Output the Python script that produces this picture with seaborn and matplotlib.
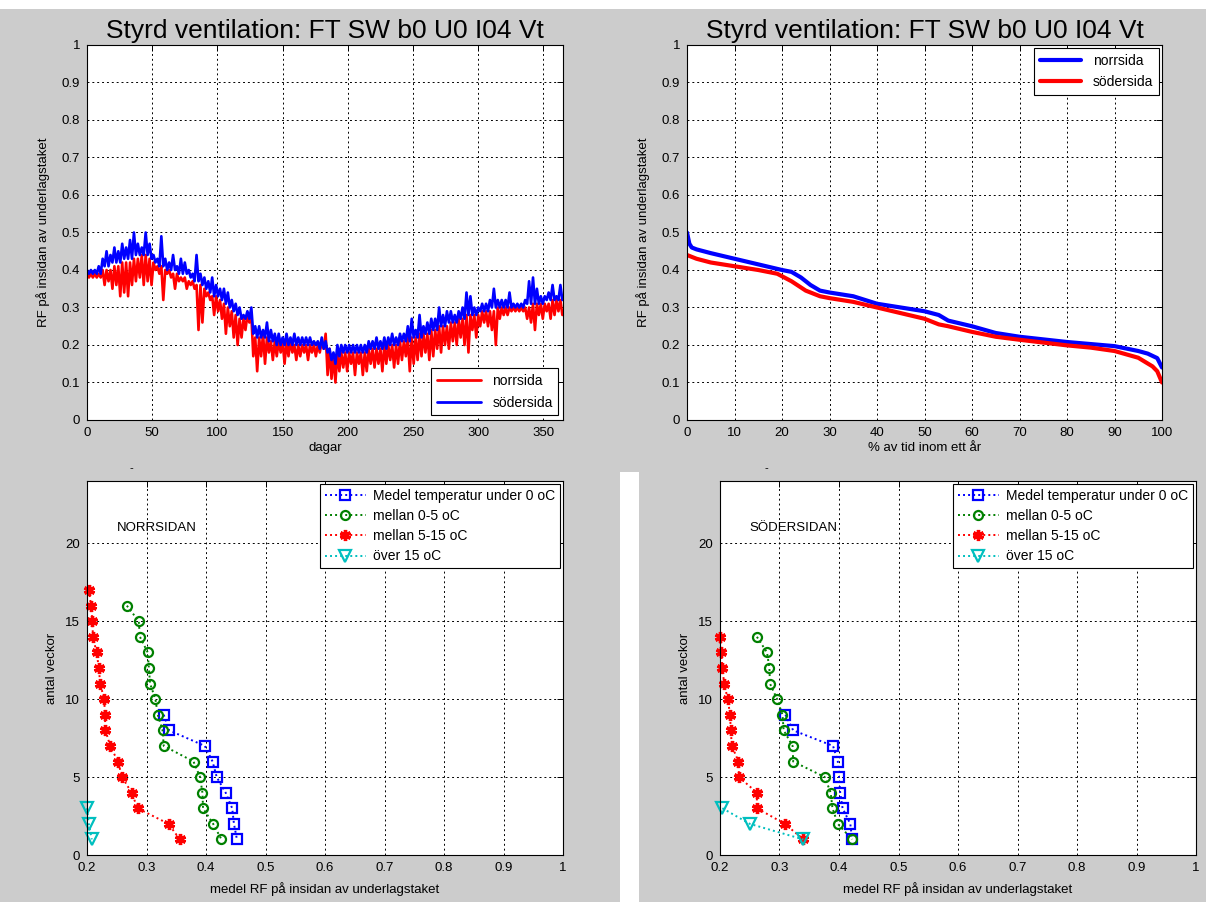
import matplotlib
matplotlib.use("Agg")
import matplotlib.pyplot as plt
from matplotlib.patches import Rectangle
import numpy as np
import pandas as pd
import seaborn as sns

sns.set_theme(style="white", rc={
    "axes.edgecolor": "black", "axes.linewidth": 0.8,
    "text.color": "black", "axes.labelcolor": "black",
    "xtick.color": "black", "ytick.color": "black",
})
plt.rcParams["font.family"] = ["Liberation Sans", "DejaVu Sans"]

TITLE = "Styrd ventilation: FT SW b0 U0 I04 Vt"
YLABEL_TOP = "RF på insidan av underlagstaket"
XLABEL_BOTTOM = "medel RF på insidan av underlagstaket"

# ---- RF over the year: upper / lower envelope sampled every 3 days ----
sample_days = list(range(0, 365, 3))

sod_hi = [0.40, 0.40, 0.40, 0.41, 0.43, 0.45, 0.44, 0.46, 0.45, 0.47,
          0.46, 0.48, 0.50, 0.47, 0.46, 0.50, 0.47, 0.44, 0.43, 0.49,
          0.43, 0.42, 0.44, 0.41, 0.43, 0.42, 0.40, 0.39, 0.44, 0.39,
          0.38, 0.37, 0.38, 0.36, 0.35, 0.35, 0.34, 0.32, 0.31, 0.30,
          0.28, 0.29, 0.30, 0.25, 0.25, 0.24, 0.26, 0.24, 0.23, 0.23,
          0.22, 0.23, 0.22, 0.23, 0.22, 0.22, 0.22, 0.22, 0.21, 0.21,
          0.22, 0.21, 0.19, 0.18, 0.20, 0.20, 0.20, 0.20, 0.20, 0.20,
          0.20, 0.20, 0.21, 0.21, 0.22, 0.21, 0.22, 0.22, 0.23, 0.22,
          0.23, 0.23, 0.25, 0.27, 0.24, 0.28, 0.25, 0.26, 0.27, 0.27,
          0.30, 0.28, 0.29, 0.29, 0.28, 0.29, 0.30, 0.34, 0.33, 0.30,
          0.30, 0.31, 0.31, 0.32, 0.35, 0.32, 0.32, 0.32, 0.34, 0.31,
          0.31, 0.31, 0.32, 0.37, 0.38, 0.35, 0.33, 0.33, 0.34, 0.36,
          0.33, 0.36]
sod_lo = [0.39, 0.39, 0.39, 0.39, 0.41, 0.41, 0.42, 0.42, 0.42, 0.43,
          0.43, 0.43, 0.44, 0.44, 0.44, 0.44, 0.43, 0.42, 0.41, 0.41,
          0.40, 0.40, 0.40, 0.39, 0.39, 0.39, 0.38, 0.37, 0.37, 0.36,
          0.35, 0.34, 0.33, 0.33, 0.32, 0.31, 0.30, 0.29, 0.28, 0.27,
          0.27, 0.27, 0.23, 0.22, 0.22, 0.22, 0.21, 0.21, 0.20, 0.20,
          0.20, 0.20, 0.20, 0.20, 0.20, 0.20, 0.20, 0.20, 0.20, 0.19,
          0.19, 0.18, 0.16, 0.15, 0.17, 0.18, 0.18, 0.18, 0.18, 0.18,
          0.18, 0.18, 0.19, 0.19, 0.19, 0.19, 0.19, 0.20, 0.20, 0.20,
          0.21, 0.21, 0.21, 0.22, 0.22, 0.22, 0.23, 0.23, 0.24, 0.24,
          0.25, 0.25, 0.26, 0.26, 0.26, 0.27, 0.27, 0.28, 0.28, 0.28,
          0.29, 0.29, 0.29, 0.30, 0.30, 0.30, 0.30, 0.30, 0.30, 0.30,
          0.30, 0.30, 0.31, 0.31, 0.31, 0.31, 0.31, 0.32, 0.32, 0.32,
          0.32, 0.32]
norr_hi = [0.39, 0.39, 0.39, 0.39, 0.40, 0.40, 0.40, 0.41, 0.41, 0.42,
           0.42, 0.42, 0.43, 0.43, 0.44, 0.44, 0.43, 0.42, 0.41, 0.41,
           0.40, 0.40, 0.39, 0.39, 0.38, 0.38, 0.37, 0.37, 0.36, 0.36,
           0.35, 0.34, 0.33, 0.33, 0.32, 0.31, 0.30, 0.29, 0.28, 0.27,
           0.27, 0.28, 0.28, 0.22, 0.22, 0.23, 0.22, 0.21, 0.21, 0.21,
           0.21, 0.21, 0.21, 0.20, 0.20, 0.20, 0.20, 0.20, 0.20, 0.20,
           0.21, 0.23, 0.19, 0.17, 0.18, 0.18, 0.18, 0.18, 0.18, 0.18,
           0.18, 0.18, 0.19, 0.19, 0.19, 0.19, 0.20, 0.20, 0.20, 0.20,
           0.21, 0.21, 0.22, 0.22, 0.22, 0.23, 0.23, 0.23, 0.24, 0.24,
           0.25, 0.25, 0.25, 0.26, 0.26, 0.27, 0.27, 0.28, 0.28, 0.28,
           0.28, 0.29, 0.29, 0.29, 0.29, 0.30, 0.30, 0.30, 0.30, 0.30,
           0.30, 0.30, 0.30, 0.30, 0.31, 0.31, 0.31, 0.31, 0.31, 0.32,
           0.32, 0.32]
norr_lo = [0.38, 0.38, 0.38, 0.38, 0.36, 0.37, 0.35, 0.36, 0.33, 0.34,
           0.33, 0.36, 0.37, 0.38, 0.36, 0.37, 0.36, 0.40, 0.39, 0.32,
           0.39, 0.38, 0.35, 0.37, 0.37, 0.35, 0.36, 0.35, 0.24, 0.26,
           0.33, 0.32, 0.28, 0.29, 0.27, 0.23, 0.25, 0.22, 0.20, 0.22,
           0.24, 0.26, 0.17, 0.13, 0.17, 0.15, 0.18, 0.16, 0.17, 0.18,
           0.15, 0.17, 0.18, 0.16, 0.17, 0.18, 0.16, 0.18, 0.17, 0.18,
           0.19, 0.12, 0.11, 0.10, 0.13, 0.14, 0.13, 0.15, 0.12, 0.15,
           0.12, 0.13, 0.15, 0.14, 0.15, 0.13, 0.15, 0.16, 0.14, 0.15,
           0.16, 0.17, 0.13, 0.15, 0.16, 0.17, 0.18, 0.16, 0.17, 0.19,
           0.18, 0.20, 0.19, 0.21, 0.20, 0.22, 0.20, 0.18, 0.24, 0.22,
           0.25, 0.26, 0.25, 0.24, 0.20, 0.27, 0.28, 0.28, 0.29, 0.29,
           0.29, 0.29, 0.27, 0.26, 0.24, 0.28, 0.27, 0.29, 0.27, 0.28,
           0.29, 0.28]

# ---- duration curves (% of the year the RF is exceeded) ----
dur_blue_pct = [0, 0.5, 1, 2, 5, 10, 15, 20, 22, 24, 26, 28, 30, 35, 40, 45,
                50, 53, 55, 60, 65, 70, 80, 90, 95, 97, 99, 100]
dur_blue_rf = [0.50, 0.47, 0.46, 0.455, 0.445, 0.43, 0.415, 0.40, 0.395,
               0.38, 0.36, 0.345, 0.34, 0.33, 0.31, 0.30, 0.29, 0.28, 0.265,
               0.25, 0.232, 0.222, 0.208, 0.197, 0.184, 0.177, 0.165, 0.14]
dur_red_pct = [0, 2, 5, 10, 15, 19, 22, 25, 28, 30, 35, 40, 45, 50, 53, 55,
               60, 65, 70, 80, 85, 90, 95, 98, 99, 100]
dur_red_rf = [0.44, 0.43, 0.42, 0.41, 0.40, 0.39, 0.37, 0.345, 0.33, 0.325,
              0.315, 0.30, 0.285, 0.27, 0.255, 0.25, 0.235, 0.222, 0.214,
              0.199, 0.193, 0.184, 0.166, 0.143, 0.13, 0.10]

# ---- weeks per temperature class vs. mean RF ----
class_labels = ["Medel temperatur under 0 oC", "mellan 0-5 oC",
                "mellan 5-15 oC", "över 15 oC"]

n_under0_weeks = [9, 8, 7, 6, 5, 4, 3, 2, 1]
n_under0_rf = [0.329, 0.338, 0.398, 0.411, 0.418, 0.433, 0.444, 0.447, 0.452]
n_0_5_weeks = [16, 15, 14, 13, 12, 11, 10, 9, 8, 7, 6, 5, 4, 3, 2, 1]
n_0_5_rf = [0.267, 0.287, 0.289, 0.302, 0.304, 0.306, 0.315, 0.319, 0.327,
            0.329, 0.379, 0.390, 0.394, 0.395, 0.412, 0.426]
n_5_15_weeks = [17, 16, 15, 14, 13, 12, 11, 10, 9, 8, 7, 6, 5, 4, 3, 2, 1]
n_5_15_rf = [0.203, 0.207, 0.209, 0.210, 0.216, 0.220, 0.222, 0.229, 0.230,
             0.231, 0.239, 0.252, 0.259, 0.275, 0.285, 0.337, 0.356]
n_over15_weeks = [3, 2, 1]
n_over15_rf = [0.200, 0.203, 0.208]

s_under0_weeks = [9, 8, 7, 6, 5, 4, 3, 2, 1]
s_under0_rf = [0.310, 0.323, 0.390, 0.398, 0.400, 0.402, 0.406, 0.419, 0.422]
s_0_5_weeks = [14, 13, 12, 11, 10, 9, 8, 7, 6, 5, 4, 3, 2, 1]
s_0_5_rf = [0.262, 0.279, 0.283, 0.284, 0.296, 0.305, 0.307, 0.322, 0.323,
            0.376, 0.386, 0.389, 0.398, 0.422]
s_5_15_weeks = [14, 13, 12, 11, 10, 9, 8, 7, 6, 5, 4, 3, 2, 1]
s_5_15_rf = [0.200, 0.202, 0.204, 0.207, 0.213, 0.217, 0.218, 0.220, 0.231,
             0.232, 0.262, 0.262, 0.309, 0.340]
s_over15_weeks = [3, 2, 1]
s_over15_rf = [0.204, 0.250, 0.340]

# ---------------------------------------------------------------------------
W, H = 1206, 902
GRAY = "#cccccc"
fig = plt.figure(figsize=(W / 100, H / 100), dpi=100, facecolor=GRAY)

# white margins of the composed sheet
fig.patches.append(Rectangle((0, 1 - 9 / H), 1, 9 / H, transform=fig.transFigure,
                             facecolor="white", edgecolor="none", zorder=-5))
fig.patches.append(Rectangle((620 / W, 0), 19 / W, (H - 472) / H,
                             transform=fig.transFigure, facecolor="white",
                             edgecolor="none", zorder=-5))


def add_axes(x0, y0, x1, y1):
    return fig.add_axes([x0 / W, 1 - y1 / H, (x1 - x0) / W, (y1 - y0) / H])


def style_axes(ax, xlim, ylim, xticks, xlabels, yticks, ylabels):
    ax.set_facecolor("white")
    ax.set_xlim(*xlim)
    ax.set_ylim(*ylim)
    ax.set_xticks(xticks)
    ax.set_xticklabels(xlabels)
    ax.set_yticks(yticks)
    ax.set_yticklabels(ylabels)
    ax.tick_params(direction="in", top=True, right=True, length=4,
                   width=0.7, labelsize=9.5, pad=5)
    ax.grid(True, color="black", linestyle=(0, (2, 3)), linewidth=0.7)
    for s in ax.spines.values():
        s.set_visible(True)
        s.set_color("black")
        s.set_linewidth(0.8)


def fmt(v):
    return "%g" % v


ax_tl = add_axes(87, 45, 563, 420)
ax_tr = add_axes(687, 45, 1162, 420)
ax_bl = add_axes(87, 481, 563, 855)
ax_br = add_axes(720, 481, 1196, 855)

# ---- top left: RF through the year ----
rows = []
for side, hi, lo in (("norrsida", norr_hi, norr_lo),
                     ("södersida", sod_hi, sod_lo)):
    for d, h, l in zip(sample_days, hi, lo):
        rows.append((side, d, h))
        rows.append((side, d + 1.5, l))
ts = pd.DataFrame(rows, columns=["sida", "dag", "RF"])

sns.lineplot(data=ts, x="dag", y="RF", hue="sida",
             hue_order=["norrsida", "södersida"],
             palette={"norrsida": "red", "södersida": "blue"},
             sort=False, estimator=None, linewidth=1.9, legend=False, ax=ax_tl)
yt = np.round(np.arange(0, 1.01, 0.1), 1)
style_axes(ax_tl, (0, 365), (0, 1), list(range(0, 351, 50)),
           [str(v) for v in range(0, 351, 50)], yt, [fmt(v) for v in yt])
ax_tl.set_title(TITLE, fontsize=19, pad=5)
ax_tl.set_xlabel("dagar", fontsize=9.5, labelpad=2)
ax_tl.set_ylabel(YLABEL_TOP, fontsize=9.5, labelpad=8)
leg = ax_tl.legend(ax_tl.lines[:2], ["norrsida", "södersida"], loc="lower right",
                   fontsize=10, frameon=True, fancybox=False, framealpha=1,
                   edgecolor="black", borderaxespad=0.35, handlelength=3.2,
                   labelspacing=0.55, borderpad=0.4)
for h in leg.legend_handles:
    h.set_linewidth(2)
leg.get_frame().set_linewidth(0.8)

# ---- top right: duration curves ----
sns.lineplot(x=dur_blue_pct, y=dur_blue_rf, color="blue", linewidth=3,
             sort=False, estimator=None, ax=ax_tr, label="norrsida")
sns.lineplot(x=dur_red_pct, y=dur_red_rf, color="red", linewidth=3,
             sort=False, estimator=None, ax=ax_tr, label="södersida")
style_axes(ax_tr, (0, 100), (0, 1), list(range(0, 101, 10)),
           [str(v) for v in range(0, 101, 10)], yt, [fmt(v) for v in yt])
ax_tr.set_title(TITLE, fontsize=19, pad=5)
ax_tr.set_xlabel("% av tid inom ett år", fontsize=9.5, labelpad=2)
ax_tr.set_ylabel(YLABEL_TOP, fontsize=9.5, labelpad=8)
leg = ax_tr.legend(loc="upper right", fontsize=10, frameon=True, fancybox=False,
                   framealpha=1, edgecolor="black", borderaxespad=0.25,
                   handlelength=3.0, labelspacing=0.5, borderpad=0.4)
leg.get_frame().set_linewidth(0.8)

# ---- bottom: weeks per temperature class ----
class_styles = [
    dict(color="#0000ff", marker="s", markersize=7),
    dict(color="#008000", marker="o", markersize=6.5),
    dict(color="#ff0000", marker=(6, 2, 0), markersize=8),
    dict(color="#00bfbf", marker="v", markersize=8),
]

panels = [
    (ax_bl, "NORRSIDAN", 0.25,
     [(n_under0_rf, n_under0_weeks), (n_0_5_rf, n_0_5_weeks),
      (n_5_15_rf, n_5_15_weeks), (n_over15_rf, n_over15_weeks)]),
    (ax_br, "SÖDERSIDAN", 0.249,
     [(s_under0_rf, s_under0_weeks), (s_0_5_rf, s_0_5_weeks),
      (s_5_15_rf, s_5_15_weeks), (s_over15_rf, s_over15_weeks)]),
]

xt = np.round(np.arange(0.2, 1.001, 0.1), 1)
for ax, name, tx, series in panels:
    for (rf, weeks), st, lab in zip(series, class_styles, class_labels):
        mew = 2.4 if st["marker"] == (6, 2, 0) else 1.6
        sns.lineplot(x=rf, y=weeks, sort=False, estimator=None, ax=ax,
                     color=st["color"], linestyle=(0, (1, 1.6)), linewidth=1.4,
                     marker=st["marker"], markersize=st["markersize"],
                     markerfacecolor="none", markeredgecolor=st["color"],
                     markeredgewidth=mew, clip_on=False, label=lab)
    style_axes(ax, (0.2, 1.0), (0, 24), xt, [fmt(v) for v in xt],
               [0, 5, 10, 15, 20], ["0", "5", "10", "15", "20"])
    ax.set_xlabel(XLABEL_BOTTOM, fontsize=9.5, labelpad=6)
    ax.set_ylabel("antal veckor", fontsize=9.5, labelpad=5)
    ax.text(tx, 21, name, fontsize=9.5, ha="left", va="center")
    leg = ax.legend(loc="upper right", fontsize=10, frameon=True,
                    fancybox=False, framealpha=1, edgecolor="black",
                    borderaxespad=0.2, handlelength=3.0, labelspacing=0.45,
                    borderpad=0.35, numpoints=1, handletextpad=0.5)
    leg.get_frame().set_linewidth(0.8)

# small marks above the lower panels
fig.text(131 / W, 1 - 468 / H, "-", fontsize=8, ha="center", va="center")
fig.text(766 / W, 1 - 468 / H, "-", fontsize=8, ha="center", va="center")

fig.savefig("out.png", dpi=100, facecolor=GRAY)
